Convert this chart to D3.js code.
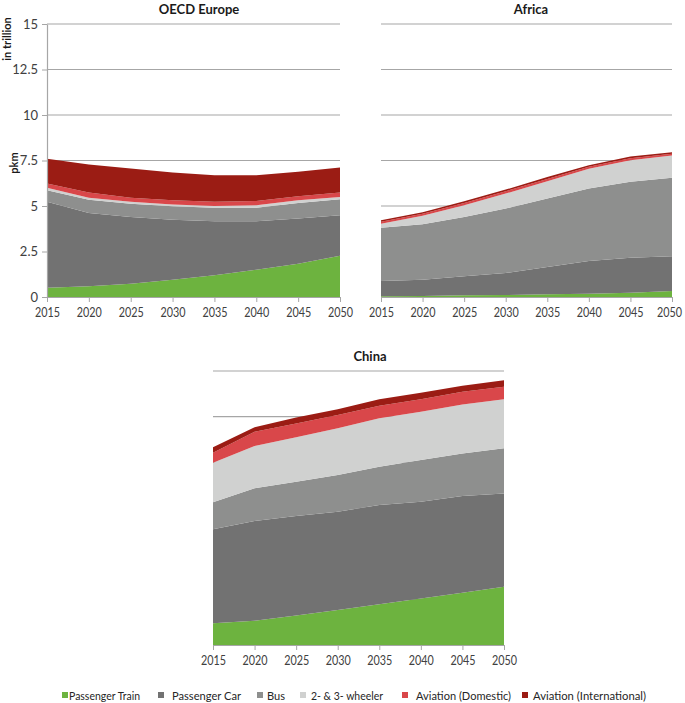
<!DOCTYPE html>
<html>
<head>
<meta charset="utf-8">
<script src="https://cdn.jsdelivr.net/npm/d3@7"></script>
<style>
  body { margin: 0; background: #fff; }
  svg { display: block; font-family: Lato, "Open Sans", sans-serif; }
</style>
</head>
<body>
<svg id="chart" width="685" height="703"></svg>
<script>
// ---------------- DATA ----------------
const years = [2015, 2020, 2025, 2030, 2035, 2040, 2045, 2050];
const seriesNames = ["Passenger Train", "Passenger Car", "Bus", "2- & 3- wheeler", "Aviation (Domestic)", "Aviation (International)"];
const seriesColors = ["#6db33f", "#727272", "#8e8f8e", "#d0d1d0", "#d9474a", "#9b1c14"];
const yTicks = [0, 2.5, 5, 7.5, 10, 12.5, 15];
const yTickLabels = ["0", "2.5", "5", "7.5", "10", "12.5", "15"];

// OECD Europe (trillion pkm)
const europeTrain = [0.51, 0.59, 0.73, 0.95, 1.19, 1.50, 1.83, 2.27];
const europeCar   = [4.72, 4.03, 3.67, 3.30, 2.97, 2.66, 2.48, 2.22];
const europeBus   = [0.64, 0.73, 0.73, 0.74, 0.74, 0.75, 0.86, 0.88];
const europe23    = [0.13, 0.11, 0.11, 0.09, 0.10, 0.13, 0.15, 0.13];
const europeDom   = [0.23, 0.28, 0.22, 0.24, 0.24, 0.24, 0.22, 0.24];
const europeIntl  = [1.36, 1.54, 1.60, 1.52, 1.45, 1.41, 1.34, 1.38];

// Africa
const africaTrain = [0.04, 0.06, 0.09, 0.11, 0.15, 0.18, 0.24, 0.33];
const africaCar   = [0.84, 0.89, 1.05, 1.21, 1.50, 1.80, 1.92, 1.91];
const africaBus   = [2.92, 3.05, 3.26, 3.54, 3.76, 3.98, 4.17, 4.31];
const africa23    = [0.23, 0.46, 0.64, 0.82, 0.95, 1.08, 1.19, 1.23];
const africaDom   = [0.10, 0.11, 0.13, 0.13, 0.13, 0.11, 0.11, 0.09];
const africaIntl  = [0.09, 0.09, 0.09, 0.09, 0.11, 0.09, 0.09, 0.09];

// China
const chinaTrain = [1.19, 1.33, 1.61, 1.92, 2.23, 2.55, 2.86, 3.19];
const chinaCar   = [5.14, 5.46, 5.45, 5.38, 5.43, 5.29, 5.30, 5.11];
const chinaBus   = [1.48, 1.79, 1.88, 2.00, 2.10, 2.29, 2.33, 2.47];
const china23    = [2.17, 2.31, 2.43, 2.56, 2.65, 2.64, 2.68, 2.69];
const chinaDom   = [0.55, 0.79, 0.76, 0.73, 0.69, 0.69, 0.69, 0.68];
const chinaIntl  = [0.29, 0.24, 0.33, 0.31, 0.35, 0.35, 0.33, 0.36];

// ---------------- LAYOUT ----------------
const panels = [
  { title: "OECD Europe", series: [europeTrain, europeCar, europeBus, europe23, europeDom, europeIntl],
    x0: 47, x1: 340, yb: 297, yt: 24, titleX: 199, titleY: 14, yAxis: true, lastDx: 0 },
  { title: "Africa", series: [africaTrain, africaCar, africaBus, africa23, africaDom, africaIntl],
    x0: 381, x1: 672, yb: 297, yt: 24, titleX: 531, titleY: 14, yAxis: false, lastDx: -3 },
  { title: "China", series: [chinaTrain, chinaCar, chinaBus, china23, chinaDom, chinaIntl],
    x0: 213, x1: 504, yb: 645, yt: 371, titleX: 370, titleY: 361, yAxis: false, lastDx: 0 }
];

const svg = d3.select("#chart");
const gridColor = "#a6a6a6";
const textColor = "#404040";

panels.forEach(p => {
  const g = svg.append("g");
  const x = d3.scaleLinear().domain([2015, 2050]).range([p.x0, p.x1]);
  const y = d3.scaleLinear().domain([0, 15]).range([p.yb, p.yt]);

  // gridlines
  g.selectAll("line.grid").data(yTicks.slice(1)).join("line")
    .attr("x1", p.x0).attr("x2", p.x1)
    .attr("y1", d => y(d)).attr("y2", d => y(d))
    .attr("stroke", gridColor).attr("stroke-width", 1.2);

  // stacked areas
  const rows = years.map((yr, i) => {
    const r = { year: yr };
    seriesNames.forEach((n, k) => r[n] = p.series[k][i]);
    return r;
  });
  const stacked = d3.stack().keys(seriesNames)(rows);
  const area = d3.area()
    .x(d => x(d.data.year))
    .y0(d => y(d[0]))
    .y1(d => y(d[1]));
  g.selectAll("path.layer").data(stacked).join("path")
    .attr("d", area)
    .attr("fill", (d, i) => seriesColors[i]);

  // x axis
  const xAxis = d3.axisBottom(x).tickValues(years).tickFormat(d3.format("d")).tickSize(5).tickSizeOuter(0);
  const xa = g.append("g").attr("transform", `translate(0,${p.yb})`).call(xAxis);
  xa.select(".domain").attr("stroke", gridColor).attr("stroke-width", 1.2);
  xa.selectAll(".tick line").attr("stroke", gridColor);
  xa.selectAll(".tick text").attr("fill", textColor).attr("font-size", 12.5)
    .attr("font-family", "Lato, sans-serif").attr("dy", "0.95em")
    .attr("textLength", 25).attr("lengthAdjust", "spacingAndGlyphs")
    .attr("dx", d => d === 2050 ? p.lastDx : 0);

  // y axis
  if (p.yAxis) {
    const yAxis = d3.axisLeft(y).tickValues(yTicks)
      .tickFormat((d, i) => yTickLabels[i]).tickSize(5).tickSizeOuter(0);
    const ya = g.append("g").attr("transform", `translate(${p.x0},0)`).call(yAxis);
    ya.select(".domain").attr("stroke", gridColor).attr("stroke-width", 1.2);
    ya.selectAll(".tick line").attr("stroke", gridColor);
    ya.selectAll(".tick text").attr("fill", textColor).attr("font-size", 13)
      .attr("font-family", "Lato, sans-serif").attr("x", -9);
  }

  // title
  g.append("text").attr("x", p.titleX).attr("y", p.titleY)
    .attr("text-anchor", "middle").attr("font-weight", "bold")
    .attr("font-size", 13).attr("fill", "#1a1a1a").text(p.title);
});

// y axis titles
svg.append("text").attr("transform", "translate(11,39) rotate(-90)")
  .attr("text-anchor", "middle").attr("font-weight", "bold").attr("font-size", 11)
  .attr("fill", "#1a1a1a").text("in trillion");
svg.append("text").attr("transform", "translate(18,163) rotate(-90)")
  .attr("text-anchor", "middle").attr("font-weight", "bold").attr("font-size", 11)
  .attr("fill", "#1a1a1a").text("pkm");

// legend
const legendX = [62, 158, 257, 300, 402, 522];
const legendTextX = [69, 172, 267, 311, 416, 533];
const legendTextW = [71, 69, 18, 72, 95, 113];
const legend = svg.append("g");
seriesNames.forEach((n, i) => {
  legend.append("rect").attr("x", legendX[i]).attr("y", 692).attr("width", 6).attr("height", 6)
    .attr("fill", seriesColors[i]);
  legend.append("text").attr("x", legendTextX[i]).attr("y", 700)
    .attr("font-size", 11.5).attr("fill", "#262626")
    .attr("textLength", legendTextW[i]).attr("lengthAdjust", "spacingAndGlyphs")
    .text(n);
});
</script>
</body>
</html>
